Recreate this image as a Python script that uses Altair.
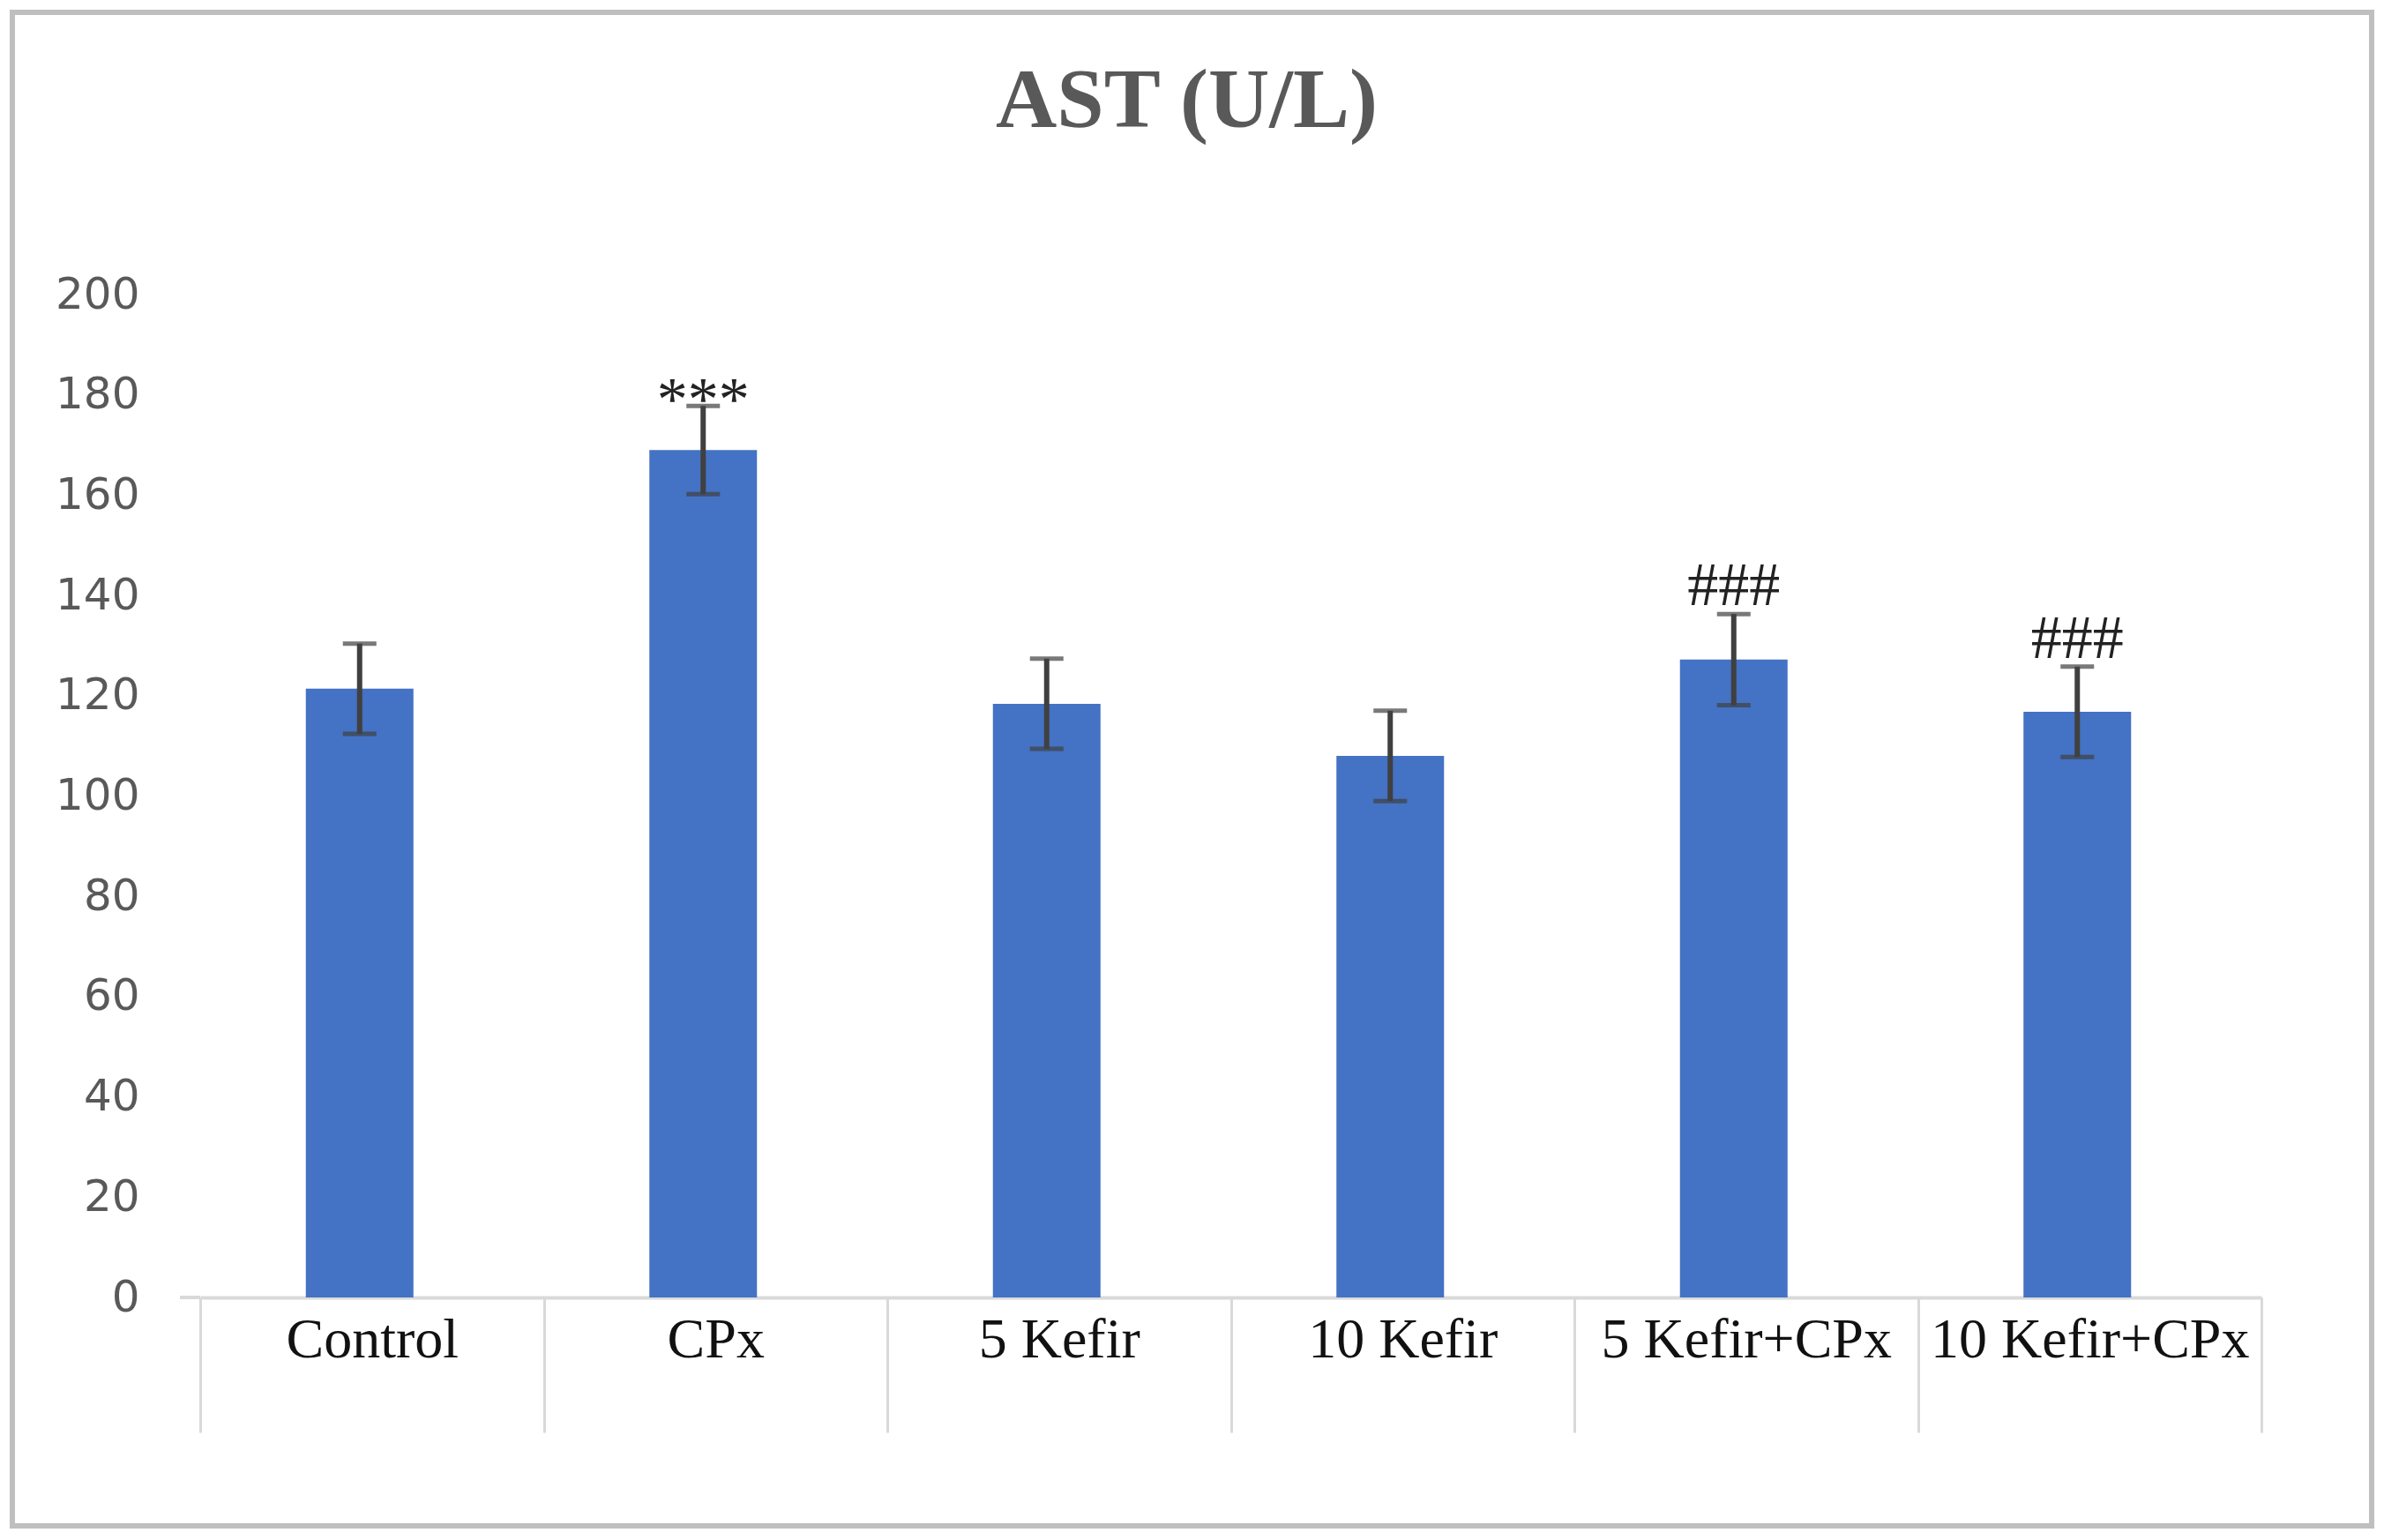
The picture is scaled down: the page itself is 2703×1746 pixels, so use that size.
import altair as alt
import pandas as pd

groups = ["Control", "CPx", "5 Kefir", "10 Kefir", "5 Kefir+CPx", "10 Kefir+CPx"]
means = [121.4, 169.0, 118.4, 108.0, 127.2, 116.8]
errors = [9.0, 8.8, 9.0, 9.0, 9.1, 9.0]
stars = ["", "***", "", "", "", ""]
hashes = ["", "", "", "", "###", "###"]
y_ticks = [0, 20, 40, 60, 80, 100, 120, 140, 160, 180, 200]

df = pd.DataFrame({
    "group": groups,
    "mean": means,
    "err": errors,
    "star": stars,
    "hash": hashes,
})
df["lo"] = df["mean"] - df["err"]
df["hi"] = df["mean"] + df["err"]

W, H = 2337, 1137
OFF = -14
BAR_COLOR = "#4472c4"
ERR_COLOR = "#404040"

xenc = alt.X(
    "group:N",
    sort=groups,
    scale=alt.Scale(paddingInner=0, paddingOuter=0),
    axis=alt.Axis(
        title=None,
        labelAngle=0,
        labelFont="Liberation Serif",
        labelFontSize=64,
        labelColor="#111111",
        labelPadding=-137,
        labelOverlap=False,
        labelLimit=1000,
        domainColor="#d9d9d9",
        domainWidth=4,
        tickColor="#d9d9d9",
        tickWidth=3,
        tickSize=153,
        tickBand="extent",
    ),
)
yscale = alt.Scale(domain=[0, 200], nice=False, zero=True)
yaxis = alt.Axis(
    title=None,
    values=y_ticks,
    grid=False,
    domain=False,
    ticks=False,
    labelFont="DejaVu Sans",
    labelFontSize=50,
    labelColor="#595959",
    labelPadding=69,
)

base = alt.Chart(df)

bars = base.mark_bar(color=BAR_COLOR, size=122, xOffset=OFF).encode(
    x=xenc,
    y=alt.Y("mean:Q", scale=yscale, axis=yaxis),
)
err_line = base.mark_rule(color=ERR_COLOR, strokeWidth=6, xOffset=OFF).encode(
    x=alt.X("group:N", sort=groups),
    y="lo:Q",
    y2="hi:Q",
)
cap_lo = base.mark_tick(color=ERR_COLOR, size=38, thickness=5, xOffset=OFF).encode(
    x=alt.X("group:N", sort=groups),
    y="lo:Q",
)
cap_hi = base.mark_tick(color=ERR_COLOR, size=38, thickness=5, xOffset=OFF).encode(
    x=alt.X("group:N", sort=groups),
    y="hi:Q",
)
star_text = base.mark_text(
    font="Liberation Serif", fontSize=70, color="#222222",
    baseline="alphabetic", dy=16, xOffset=OFF,
).encode(
    x=alt.X("group:N", sort=groups),
    y="hi:Q",
    text="star:N",
)
hash_text = base.mark_text(
    font="Liberation Serif", fontSize=70, color="#222222",
    baseline="alphabetic", dy=-10, xOffset=OFF,
).encode(
    x=alt.X("group:N", sort=groups),
    y="hi:Q",
    text="hash:N",
)

one = alt.Chart(pd.DataFrame({"k": [0]}))
axis_ext = one.mark_rule(color="#d9d9d9", strokeWidth=4).encode(
    x=alt.value(-23), x2=alt.value(0), y=alt.value(H)
)
border = one.mark_rect(fill=None, fillOpacity=0, stroke="#bfbfbf", strokeWidth=6).encode(
    x=alt.value(-213), x2=alt.value(2462), y=alt.value(-320), y2=alt.value(1396)
)

chart = alt.layer(
    border, bars, err_line, cap_lo, cap_hi, star_text, hash_text, axis_ext
).properties(
    width=W,
    height=H,
    padding={"left": 219, "top": 326, "right": 130, "bottom": 264},
    autosize="none",
    background="white",
    title=alt.TitleParams(
        "AST (U/L)",
        font="Liberation Serif",
        fontSize=96,
        fontWeight="bold",
        color="#595959",
        anchor="middle",
        baseline="alphabetic",
        dx=-50,
        offset=-229,
    ),
).configure_view(strokeWidth=0, stroke="transparent")

chart.save("out.html", embed_options={"renderer": "svg", "actions": False})
